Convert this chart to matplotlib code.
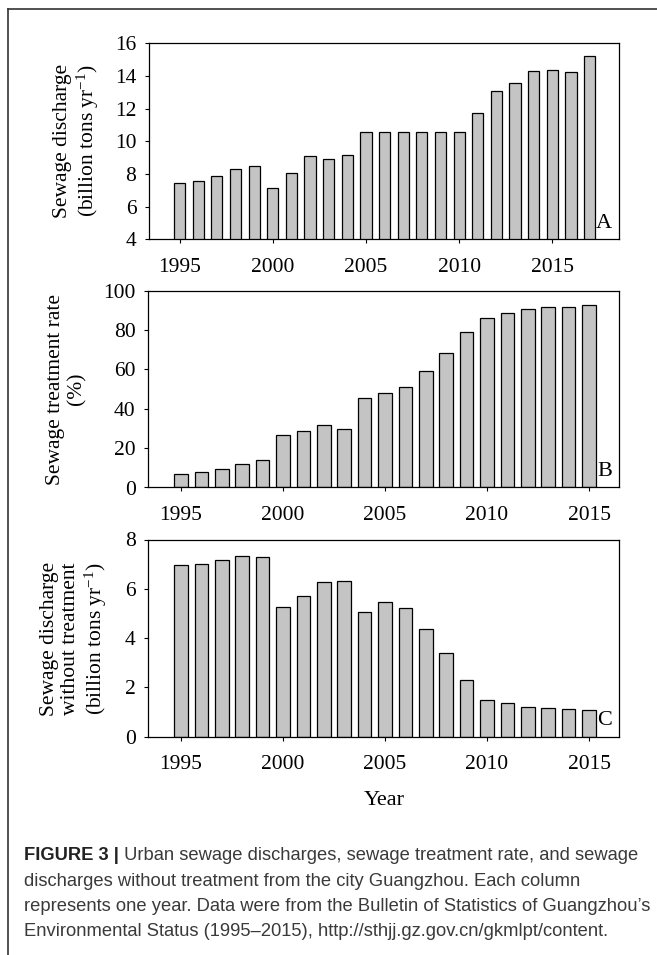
import matplotlib
matplotlib.use("Agg")
import matplotlib.pyplot as plt
from matplotlib.lines import Line2D

plt.rcParams['font.family'] = ['Liberation Serif', 'DejaVu Serif']
plt.rcParams['mathtext.fontset'] = 'custom'
plt.rcParams['mathtext.rm'] = 'Liberation Serif'
plt.rcParams['mathtext.it'] = 'Liberation Serif:italic'

# annual sewage data for Guangzhou
years_a = list(range(1995, 2018))
discharge = [7.43, 7.59, 7.89, 8.28, 8.46, 7.16, 8.05, 9.09, 8.93, 9.17,
             10.59, 10.59, 10.59, 10.59, 10.59, 10.59, 11.70, 13.06, 13.55,
             14.28, 14.34, 14.20, 15.21]

years = list(range(1995, 2016))
treatment_rate = [6.6, 8.1, 9.3, 12.1, 14.0, 26.5, 28.7, 31.7, 29.7, 45.2,
                  48.2, 50.9, 58.9, 68.3, 78.8, 85.8, 88.5, 90.4, 91.7, 91.7,
                  92.6]
untreated = [6.95, 7.00, 7.15, 7.32, 7.27, 5.26, 5.72, 6.26, 6.31, 5.04,
             5.46, 5.24, 4.35, 3.39, 2.28, 1.49, 1.38, 1.22, 1.16, 1.11,
             1.10]

year_ticks = [1995, 2000, 2005, 2010, 2015]

W, H = 657, 955
fig = plt.figure(figsize=(W / 100, H / 100), dpi=100)


def px_box(left, top, right, bottom):
    return [left / W, 1 - bottom / H, (right - left) / W, (bottom - top) / H]


def panel(box, x, y, ylim, yticks, xlim, width, letter):
    ax = fig.add_axes(box)
    ax.bar(x, y, width=width, color='#c4c4c4', edgecolor='black',
           linewidth=0.9, bottom=0)
    ax.set_xlim(*xlim)
    ax.set_ylim(*ylim)
    ax.set_yticks(yticks)
    ax.set_xticks(year_ticks)
    ax.tick_params(axis='both', direction='out', length=3, width=0.8,
                   labelsize=15.5)
    ax.tick_params(axis='y', pad=6)
    ax.tick_params(axis='x', pad=10)
    for s in ax.spines.values():
        s.set_linewidth(0.9)
    ax.text(0.985, 0.035, letter, transform=ax.transAxes, ha='right',
            va='bottom', fontsize=16)
    return ax


panel(px_box(149, 43, 619, 239.5), years_a, discharge, (4, 16),
      range(4, 17, 2), (1993.36, 2018.58), 0.6, 'A')
panel(px_box(148, 290.5, 619, 487.5), years, treatment_rate, (0, 100),
      range(0, 101, 20), (1993.38, 2016.47), 0.67, 'B')
panel(px_box(148, 539.5, 619, 736.7), years, untreated, (0, 8),
      range(0, 9, 2), (1993.38, 2016.47), 0.67, 'C')

# y-axis titles
lab_kw = dict(rotation=90, ha='center', va='center', fontsize=15.5,
              multialignment='center', linespacing=1.15)
fig.text(77 / W, 1 - 141 / H,
         'Sewage discharge\n(billion tons yr$^{-1}$)', **lab_kw)
fig.text(66 / W, 1 - 389 / H, 'Sewage treatment rate\n(%)', **lab_kw)
fig.text(74.5 / W, 1 - 639 / H,
         'Sewage discharge\nwithout treatment\n(billion tons yr$^{-1}$)',
         **lab_kw)
fig.text(384 / W, 1 - 800 / H, 'Year', ha='center', va='center',
         fontsize=16)

# frame around the figure area
fig.add_artist(Line2D([8 / W, 1], [1 - 9 / H, 1 - 9 / H],
                      transform=fig.transFigure, color='#333333', lw=1.2))
fig.add_artist(Line2D([8 / W, 8 / W], [1 - 9 / H, 0],
                      transform=fig.transFigure, color='#333333', lw=1.2))

# caption
cap_lines = [
    ' Urban sewage discharges, sewage treatment rate, and sewage',
    'discharges without treatment from the city Guangzhou. Each column',
    'represents one year. Data were from the Bulletin of Statistics of Guangzhou\u2019s',
    'Environmental Status (1995\u20132015), http://sthjj.gz.gov.cn/gkmlpt/content.',
]
cap_y = [855, 881, 906, 931]
cap_kw = dict(family=['Liberation Sans', 'DejaVu Sans'], fontsize=13.2,
              va='center', ha='left')
x0 = 24 / W
bold = fig.text(x0, 1 - cap_y[0] / H, 'FIGURE 3 |', weight='bold',
                color='#222222', **cap_kw)
renderer = fig.canvas.get_renderer()
bb = bold.get_window_extent(renderer=renderer)
fig.text(bb.x1 / W, 1 - cap_y[0] / H, cap_lines[0], color='#3a3a3a', **cap_kw)
for line, yy in zip(cap_lines[1:], cap_y[1:]):
    fig.text(x0, 1 - yy / H, line, color='#3a3a3a', **cap_kw)

fig.savefig('out.png', dpi=100)
